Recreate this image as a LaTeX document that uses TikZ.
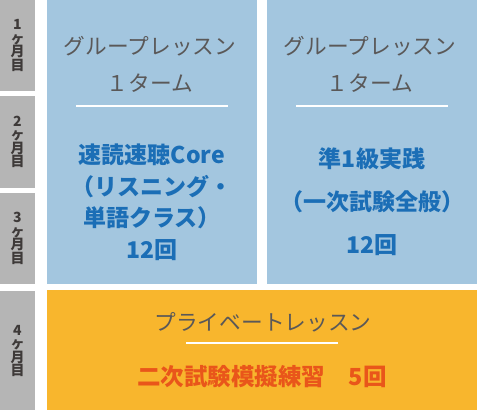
\documentclass[tikz,border=0pt]{standalone}
\usepackage{fontspec}
\newfontfamily\jp{Noto Sans CJK JP}
\definecolor{monthgray}{HTML}{B5B5B5}
\definecolor{monthtext}{HTML}{3E3A39}
\definecolor{grpblue}{HTML}{A3C6DF}
\definecolor{privorange}{HTML}{F8B62D}
\definecolor{titlegray}{HTML}{5A5858}
\definecolor{bluetext}{HTML}{1B6EB6}
\definecolor{orangetext}{HTML}{E9561A}
\tikzset{
  panel/.style={rectangle, inner sep=0pt, outer sep=0pt, draw=none},
  monthbox/.style={panel, fill=monthgray, minimum width=35pt, text=monthtext,
    font=\jp\bfseries\fontsize{14}{13.5}\selectfont, align=center},
  title/.style={inner sep=0pt, text=titlegray, align=center,
    font=\jp\fontsize{21.7}{37}\selectfont},
  bluebody/.style={inner sep=0pt, text=bluetext, align=center,
    font=\jp\bfseries\fontsize{23}{31.5}\selectfont},
  sep/.style={draw=white, line width=1.4pt}
}
\begin{document}
\begin{tikzpicture}[x=1pt,y=-1pt]
\useasboundingbox (0,0) rectangle (480,410);
\fill[white] (0,0) rectangle (480,410);
% month column
\node[monthbox, minimum height=91pt] (m1) at (17.5,45.5) {1\\ヶ\\月\\目};
\node[monthbox, minimum height=92pt] (m2) at (17.5,142) {2\\ヶ\\月\\目};
\node[monthbox, minimum height=91pt] (m3) at (17.5,238.5) {3\\ヶ\\月\\目};
\node[monthbox, minimum height=120pt] (m4) at (17.5,351) {4\\ヶ\\月\\目};
% group lesson panels
\node[panel, fill=grpblue, minimum width=210pt, minimum height=284pt] (b1) at (152,142) {};
\node[panel, fill=grpblue, minimum width=210pt, minimum height=284pt] (b2) at (372,142) {};
% private lesson panel
\node[panel, fill=privorange, minimum width=430pt, minimum height=120pt] (p) at (262,350) {};
% titles
\node[title] (t1) at (150,64) {グループレッスン\\１ターム};
\node[title] (t2) at (370,64) {グループレッスン\\１ターム};
\node[title] (t3) at (263,322) {プライベートレッスン};
% separators
\coordinate (s1a) at (76,106); \coordinate (s1b) at (228,106);
\coordinate (s2a) at (296,106); \coordinate (s2b) at (448,106);
\coordinate (s3a) at (186,343); \coordinate (s3b) at (338,343);
\draw[sep] (s1a) -- (s1b);
\draw[sep] (s2a) -- (s2b);
\draw[sep] (s3a) -- (s3b);
% bodies
\node[bluebody] (c1) at (152,202) {速読速聴Core\\（リスニング・\\単語クラス）\\12回};
\node[bluebody, font=\jp\bfseries\fontsize{23}{43}\selectfont] (c2) at (372,202) {準1級実践\\（一次試験全般）\\12回};
\node[inner sep=0pt, text=orangetext, font=\jp\bfseries\fontsize{23.5}{26}\selectfont] (c3) at (262,377) {二次試験模擬練習　5回};
\end{tikzpicture}
\end{document}
